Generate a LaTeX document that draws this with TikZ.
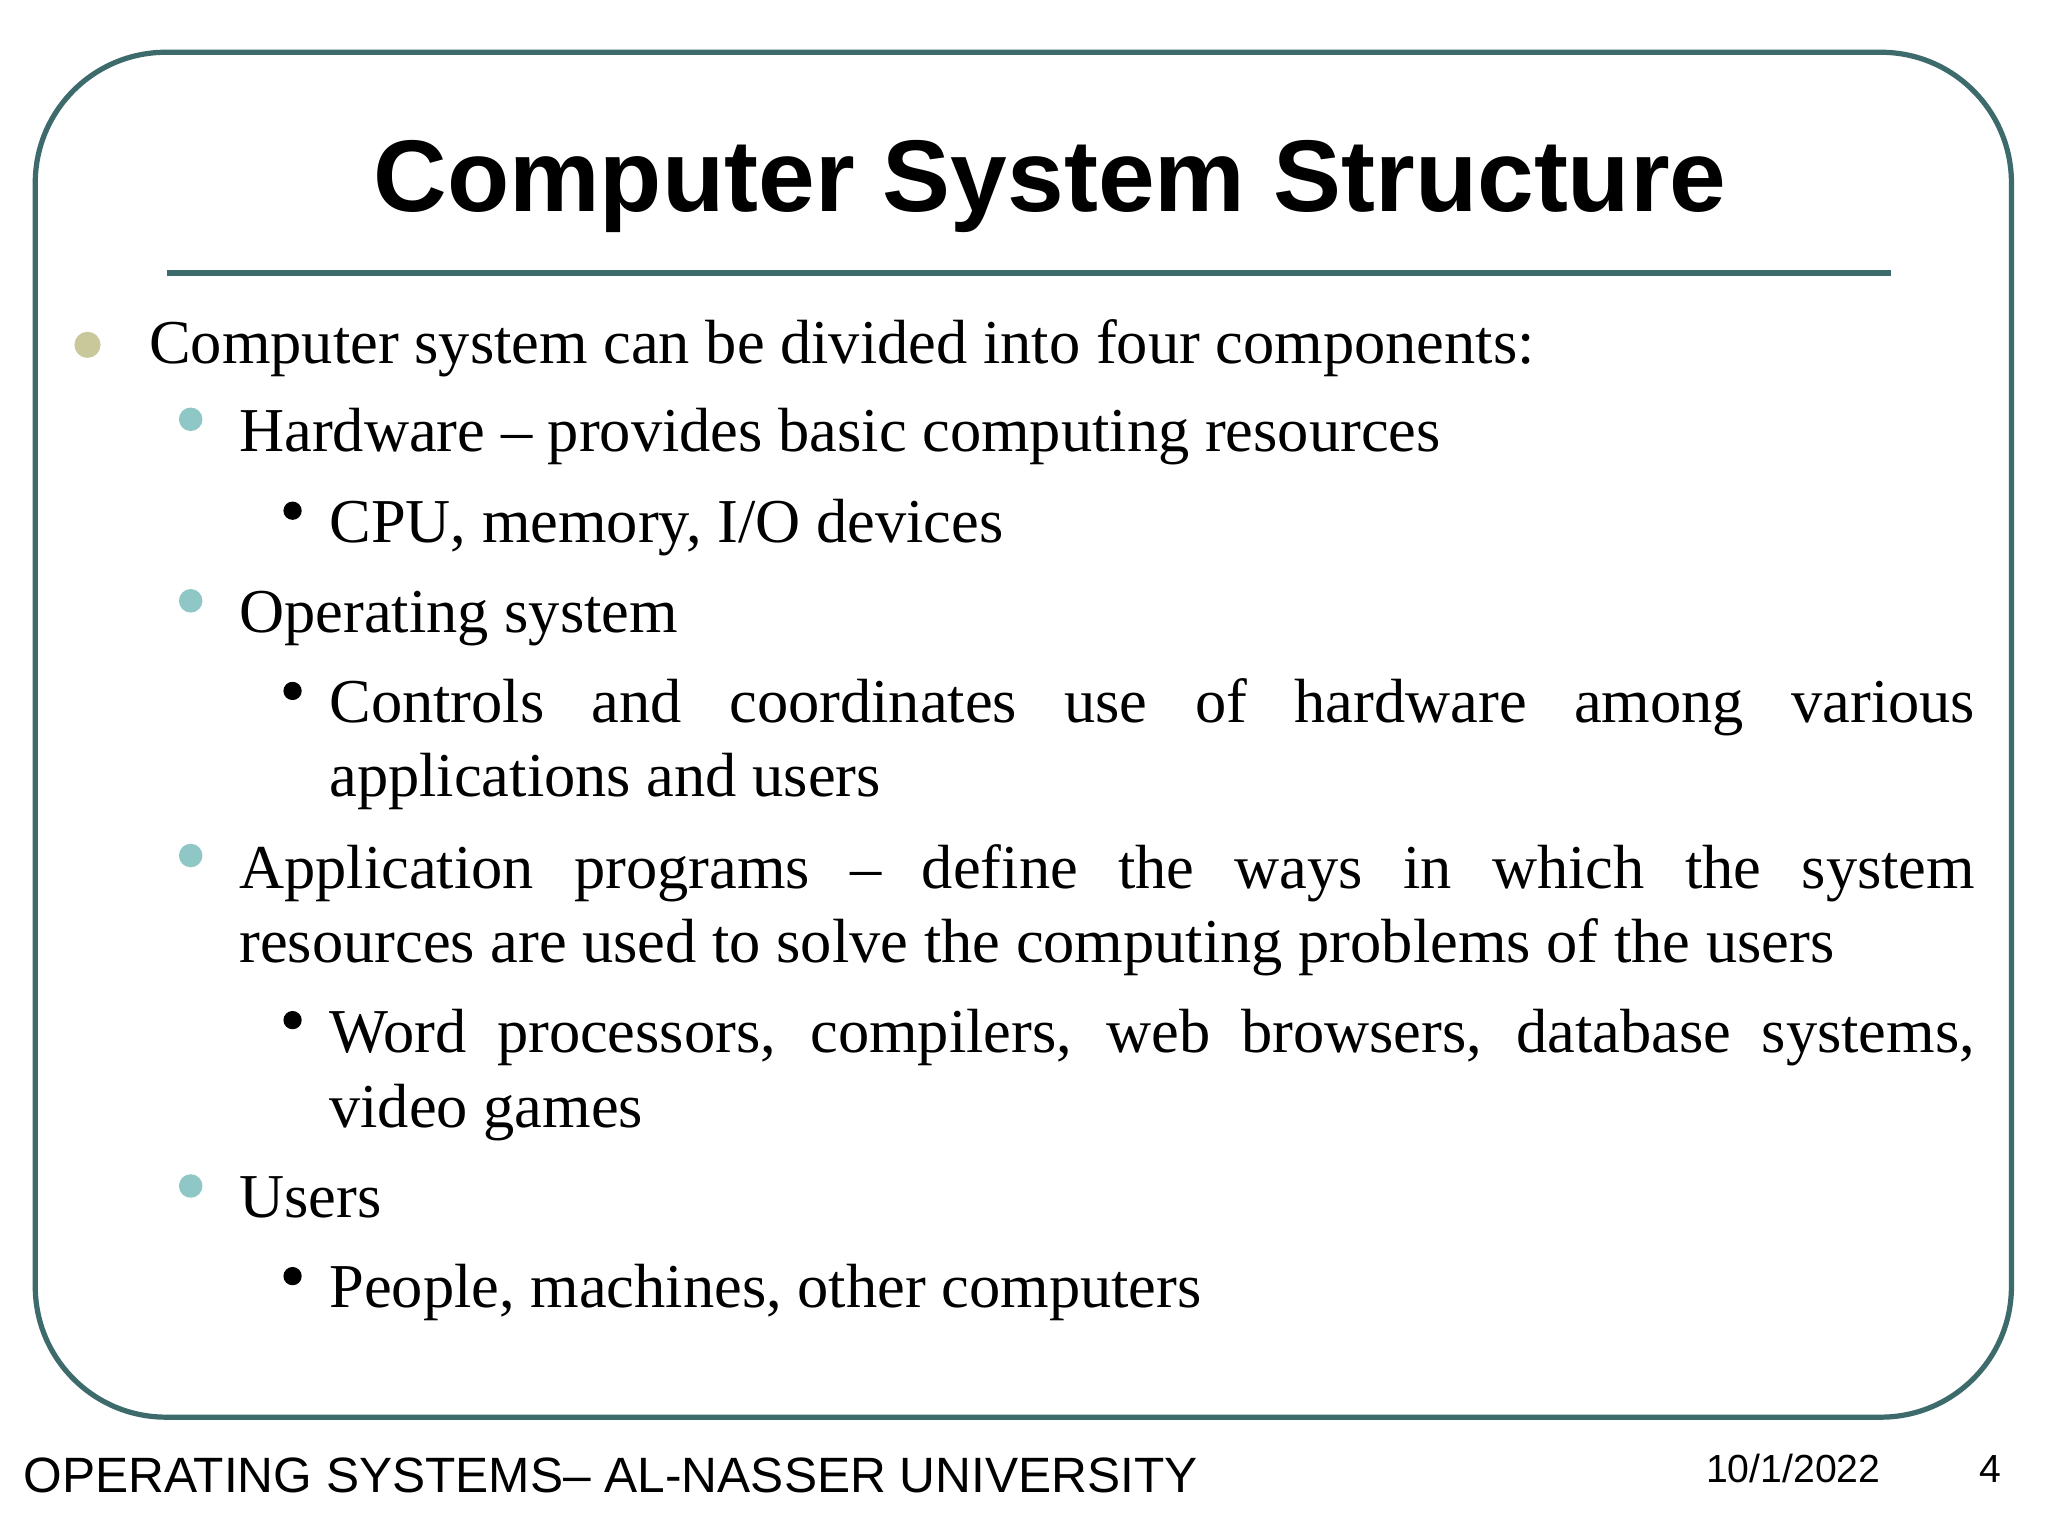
\documentclass[tikz,border=0pt]{standalone}
\usepackage{fontspec}
\setmainfont{Liberation Serif}
\newfontfamily\arial{Liberation Sans}
\definecolor{frame}{HTML}{3D6B6B}
\definecolor{olivedot}{HTML}{C8C89A}
\definecolor{tealdot}{HTML}{8FC7C7}
\begin{document}
\begin{tikzpicture}[x=1pt,y=-1pt,
  body/.style={anchor=base west,inner sep=0,font=\fontsize{47.8}{54}\selectfont},
  foot/.style={anchor=base west,inner sep=0,font=\arial\fontsize{38}{44}\selectfont}]
\useasboundingbox (0,0) rectangle (1568,1176);
\fill[white] (0,0) rectangle (1568,1176);
\draw[frame,line width=4pt,rounded corners=100pt] (27,40) rectangle (1540,1085);
\draw[frame,line width=5pt] (128,209) -- (1448,209);
\node[anchor=base,inner sep=0,font=\arial\bfseries\fontsize{78}{88}\selectfont] (title) at (804,162) {Computer System Structure};
\fill[olivedot] (67,264) circle (10);
\foreach \y in {321,460,655,908} \fill[tealdot] (146,\y) circle (9);
\foreach \y in {391,529,781,977} \fill[black] (224,\y) circle (7);
\node[body] (l1) at (114,278) {Computer system can be divided into four components:};
\node[body] (l2) at (183,346) {Hardware -- provides basic computing resources};
\node[body] (l3) at (252,415) {CPU, memory, I/O devices};
\node[body] (l4) at (183,484) {Operating system};
\node[body] (l5) at (252,553) {\makebox[1260pt][s]{Controls and coordinates use of hardware among various}};
\node[body] (l6) at (252,610) {applications and users};
\node[body] (l7) at (183,680) {\makebox[1329pt][s]{Application programs -- define the ways in which the system}};
\node[body] (l8) at (183,737) {resources are used to solve the computing problems of the users};
\node[body] (l9) at (252,806) {\makebox[1260pt][s]{Word processors, compilers, web browsers, database systems,}};
\node[body] (l10) at (252,863) {video games};
\node[body] (l11) at (183,932) {Users};
\node[body] (l12) at (252,1001) {People, machines, other computers};
\node[foot] (f1) at (18,1143) {OPERATING SYSTEMS– AL-NASSER UNIVERSITY};
\node[foot,font=\arial\fontsize{30}{36}\selectfont] (f2) at (1306,1135) {10/1/2022};
\node[foot,font=\arial\fontsize{30}{36}\selectfont] (f3) at (1515,1135) {4};
\end{tikzpicture}
\end{document}
